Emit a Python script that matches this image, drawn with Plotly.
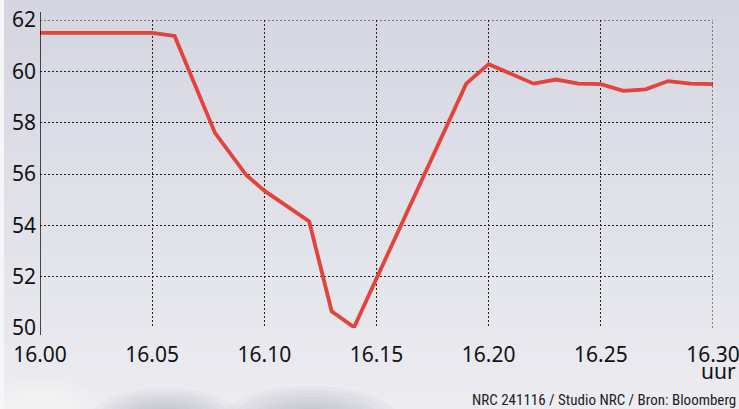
import plotly.graph_objects as go

# minutes after 16.00
minutes = [0, 5, 6, 7.8, 9.2, 10, 12, 13, 14, 19, 20, 21, 22, 23, 24, 25, 26, 27, 28, 29, 30]
values = [61.5, 61.5, 61.38, 57.6, 55.95, 55.35, 54.15, 50.65, 50.03, 59.52, 60.28, 59.9, 59.52,
          59.68, 59.52, 59.5, 59.24, 59.3, 59.62, 59.52, 59.5]

x_tickvals = [0, 5, 10, 15, 20, 25, 30]
x_ticktext = ["16.00", "16.05", "16.10", "16.15", "16.20", "16.25", "16.30"]
y_tickvals = [50, 52, 54, 56, 58, 60, 62]

fig = go.Figure()
fig.add_trace(go.Scatter(x=minutes, y=values, mode="lines",
                         line=dict(color="#e2433b", width=3.8), hoverinfo="skip"))

W, H, L, R, T, B = 739, 409, 40, 26, 20, 81
pw, ph = W - L - R, H - T - B


def px(x):
    return (x - L) / pw


def py(y):
    return (H - B - y) / ph


shapes = []
# background gradient (sky)
top = (214, 214, 226)
mid = (236, 236, 241)
n = 40
for i in range(n):
    t = i / (n - 1)
    c = tuple(int(top[k] + (mid[k] - top[k]) * t) for k in range(3))
    y0 = py(H * (i + 1) / n) - 0.002
    y1 = py(H * i / n)
    shapes.append(dict(type="rect", xref="paper", yref="paper", layer="below",
                       x0=px(0), x1=px(W), y0=y0, y1=y1,
                       fillcolor="rgb(%d,%d,%d)" % c, line=dict(width=0)))
# soft cloud blobs near bottom (layered ellipses)
for cx, cy, rx, ry, col in [
    (165, 420, 75, 32, "#9c9cae"),
    (310, 422, 90, 36, "#9c9cae"),
    (40, 405, 60, 30, "#ffffff"),
]:
    for s in (1.0, 0.9, 0.8, 0.7, 0.6, 0.5, 0.4, 0.3):
        shapes.append(dict(type="circle", xref="paper", yref="paper", layer="below",
                           x0=px(cx - rx * s), x1=px(cx + rx * s),
                           y0=py(cy + ry * s), y1=py(cy - ry * s),
                           fillcolor=col, opacity=0.07, line=dict(width=0)))
# thin white strip at left edge
shapes.append(dict(type="rect", xref="paper", yref="paper", layer="below",
                   x0=px(0), x1=px(4), y0=py(H), y1=py(0),
                   fillcolor="#f6f6f8", line=dict(width=0)))
# left axis line
shapes.append(dict(type="line", xref="x", yref="paper", x0=0, x1=0, y0=py(335), y1=py(12),
                   line=dict(color="#111111", width=1.5)))
# top and right dotted borders
shapes.append(dict(type="line", xref="paper", yref="y", x0=0, x1=1, y0=62, y1=62,
                   line=dict(color="#222222", width=1, dash="2px,2px")))
shapes.append(dict(type="line", xref="x", yref="paper", x0=30, x1=30, y0=0, y1=1,
                   line=dict(color="#222222", width=1, dash="2px,2px")))

fig.update_layout(
    width=W, height=H,
    margin=dict(l=L, r=R, t=T, b=B, autoexpand=False),
    paper_bgcolor="#dcdce6",
    plot_bgcolor="rgba(0,0,0,0)",
    showlegend=False,
    shapes=shapes,
    font=dict(family="Noto Sans", color="#111111"),
    xaxis=dict(range=[0, 30], tickvals=x_tickvals, ticktext=x_ticktext,
               showgrid=True, gridcolor="#222222", griddash="2px,2px", gridwidth=1,
               zeroline=False, showline=False, ticks="", ticklabelstandoff=12,
               ticklabeloverflow="allow", automargin=False,
               tickfont=dict(size=21, family="Noto Sans", color="#111111")),
    yaxis=dict(range=[50, 62], tickvals=y_tickvals,
               showgrid=True, gridcolor="#222222", griddash="2px,2px", gridwidth=1,
               zeroline=False, showline=False, ticks="", ticklabelstandoff=3,
               ticklabeloverflow="allow", automargin=False,
               tickfont=dict(size=21, family="Noto Sans", color="#111111")),
    annotations=[
        dict(text="uur", xref="paper", yref="paper", x=px(738), y=py(355), xanchor="right",
             yanchor="top", showarrow=False, font=dict(size=21, family="Noto Sans", color="#111111")),
        dict(text="NRC 241116 / Studio NRC / Bron: Bloomberg", xref="paper", yref="paper",
             x=px(738), y=py(389), xanchor="right", yanchor="top", showarrow=False,
             font=dict(size=15, family="Liberation Sans Narrow, Roboto Condensed, Roboto", color="#222222")),
    ],
)
fig.write_html("out.html", config={"displayModeBar": False},
               post_script="document.body.style.margin='0';document.body.style.overflow='hidden';")
